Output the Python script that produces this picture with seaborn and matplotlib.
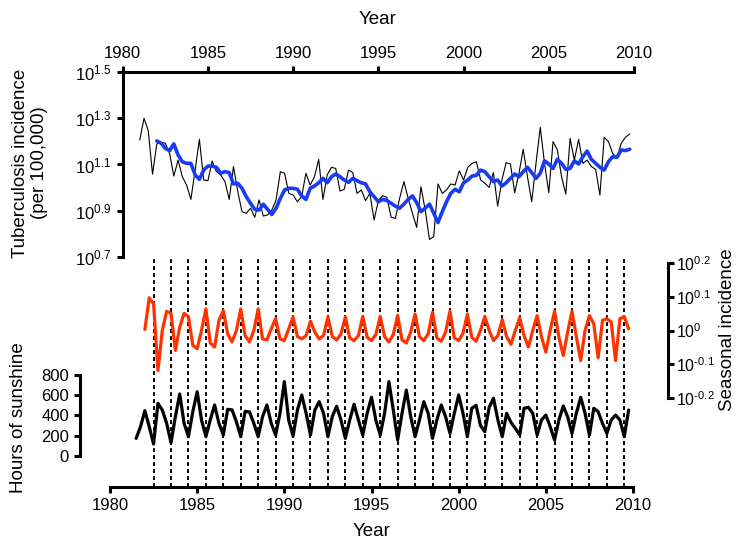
import numpy as np
import matplotlib.pyplot as plt
import seaborn as sns

# quarterly tuberculosis incidence, log10(per 100,000), from 1981 Q1
tb_log = [1.206, 1.300, 1.246, 1.058, 1.189, 1.196, 1.192, 1.148, 1.050, 1.119,
          1.047, 1.011, 0.949, 1.076, 1.209, 1.033, 1.030, 1.115, 1.069, 1.055,
          1.026, 0.949, 1.091, 0.983, 0.896, 0.889, 0.911, 0.872, 0.947, 0.877,
          0.882, 0.903, 0.947, 1.069, 1.062, 0.975, 0.968, 0.939, 0.961, 1.062,
          1.011, 1.047, 1.122, 0.949, 1.055, 1.088, 1.083, 0.985, 0.993, 1.076,
          1.065, 0.975, 0.990, 0.944, 0.975, 0.860, 0.944, 0.965, 0.958, 0.872,
          0.867, 0.954, 1.026, 0.954, 0.889, 0.828, 1.004, 0.903, 0.776, 0.788,
          1.016, 0.975, 0.990, 1.016, 1.011, 1.073, 1.033, 1.088, 1.105, 1.112,
          1.033, 1.019, 1.001, 1.065, 0.920, 1.033, 1.108, 1.102, 0.978, 1.062,
          1.166, 1.047, 0.939, 1.105, 1.261, 1.105, 0.978, 1.199, 1.163, 1.047,
          0.972, 1.213, 1.119, 1.209, 1.105, 1.119, 1.091, 1.079, 0.968, 1.218,
          1.199, 1.148, 1.127, 1.192, 1.218, 1.232]

# smoothed trend, log10(per 100,000), from 1982 Q1
trend_log = [1.202, 1.192, 1.170, 1.160, 1.189, 1.141,
             1.112, 1.105, 1.105, 1.055, 1.036, 1.076, 1.093, 1.093, 1.088, 1.062,
             1.069, 1.065, 1.016, 1.019, 0.997, 0.961, 0.932, 0.906, 0.903, 0.928,
             0.906, 0.884, 0.911, 0.954, 0.990, 0.997, 0.997, 0.993, 0.964, 0.949,
             0.997, 1.007, 1.021, 1.040, 1.021, 1.047, 1.059, 1.047, 1.033, 1.023,
             1.040, 1.030, 1.021, 1.016, 0.982, 0.961, 0.939, 0.949, 0.944, 0.932,
             0.920, 0.911, 0.929, 0.949, 0.964, 0.935, 0.896, 0.911, 0.929, 0.889,
             0.849, 0.896, 0.939, 0.975, 0.993, 0.982, 1.021, 1.033, 1.050, 1.053,
             1.076, 1.069, 1.047, 1.026, 1.033, 1.007, 1.021, 1.040, 1.059, 1.047,
             1.069, 1.088, 1.065, 1.040, 1.062, 1.116, 1.102, 1.083, 1.122, 1.105,
             1.079, 1.083, 1.116, 1.102, 1.134, 1.158, 1.122, 1.105, 1.088, 1.076,
             1.112, 1.134, 1.131, 1.163, 1.160, 1.166]

# seasonal incidence, log10, from 1982 Q1
season_log = [0.003, 0.097, 0.079, -0.119, 0.000, 0.057, 0.051, -0.059, 0.010, 0.051,
              0.041, -0.044, -0.054, 0.000, 0.064, -0.037, -0.049, 0.030, 0.059, -0.010,
              -0.034, 0.000, 0.064, -0.015, -0.034, 0.000, 0.064, -0.025, -0.028, 0.005,
              0.035, -0.025, -0.030, 0.005, 0.040, -0.018, -0.025, -0.015, 0.028, -0.005,
              -0.025, -0.015, 0.040, -0.018, -0.028, -0.010, 0.040, -0.022, -0.030, -0.015,
              0.042, -0.020, -0.030, -0.012, 0.042, -0.018, -0.034, -0.012, 0.045, -0.028,
              -0.037, -0.005, 0.049, -0.018, -0.030, -0.010, 0.054, -0.022, -0.032, -0.005,
              0.057, -0.022, -0.030, -0.008, 0.049, -0.020, -0.032, 0.000, 0.042, 0.000,
              -0.030, -0.015, 0.032, -0.018, -0.041, 0.000, 0.038, -0.015, -0.049, 0.000,
              0.044, -0.018, -0.064, 0.000, 0.057, -0.020, -0.074, -0.005, 0.057, -0.018,
              -0.089, 0.000, 0.044, 0.020, -0.081, 0.030, 0.035, 0.025, -0.089, 0.035,
              0.041, 0.005]

# hours of sunshine per quarter, from 1981 Q3
sunshine = [172, 288, 447, 288, 116, 519, 453, 321, 129, 387,
            612, 321, 189, 437, 635, 354, 189, 354, 503, 321,
            205, 460, 455, 337, 189, 440, 435, 321, 189, 387,
            503, 321, 205, 420, 735, 354, 195, 453, 602, 420,
            205, 453, 536, 420, 189, 387, 490, 354, 172, 354,
            510, 354, 205, 420, 580, 354, 205, 420, 734, 453,
            156, 420, 651, 387, 189, 354, 536, 420, 172, 354,
            503, 387, 222, 420, 602, 420, 189, 470, 500, 300,
            238, 480, 569, 354, 189, 420, 330, 271, 205, 470,
            480, 420, 205, 354, 403, 288, 156, 354, 493, 387,
            222, 420, 579, 420, 205, 470, 437, 321, 222, 354,
            403, 354, 189, 453]

tb_year = 1981.0 + 0.25 * np.arange(len(tb_log))
trend_year = 1982.0 + 0.25 * np.arange(len(trend_log))
season_year = 1982.0 + 0.25 * np.arange(len(season_log))
sun_year = 1981.5 + 0.25 * np.arange(len(sunshine))
mid_years = np.arange(1982.5, 2010, 1.0)

year_ticks = [1980, 1985, 1990, 1995, 2000, 2005, 2010]
tb_exps = ["0.7", "0.9", "1.1", "1.3", "1.5"]
season_exps = ["-0.2", "-0.1", "0", "0.1", "0.2"]
sun_ticks = [0, 200, 400, 600, 800]

sns.set_style("ticks")
plt.rcParams["font.family"] = ["Liberation Sans", "DejaVu Sans"]
plt.rcParams["mathtext.fontset"] = "custom"
plt.rcParams["mathtext.rm"] = "Liberation Sans"
plt.rcParams["mathtext.it"] = "Liberation Sans:italic"
plt.rcParams["mathtext.default"] = "rm"
for key in ["text.color", "axes.labelcolor", "xtick.color", "ytick.color", "axes.edgecolor"]:
    plt.rcParams[key] = "black"


def pow10_label(e):
    # plain hyphen for the minus, as in the original figure
    return r"$10^{\text{%s}}$" % e


W, H = 737, 546
fig = plt.figure(figsize=(W / 100, H / 100), dpi=100)


def box(x0, y0, x1, y1):
    return [x0 / W, 1 - y1 / H, (x1 - x0) / W, (y1 - y0) / H]


ax_bot = fig.add_axes(box(110, 258, 633, 487))
ax_mid = fig.add_axes(box(110, 263, 633, 398))
ax_top = fig.add_axes(box(122.7, 72, 634, 257))

LW = 2.2
for ax in (ax_bot, ax_mid, ax_top):
    ax.patch.set_visible(False)
    for s in ax.spines.values():
        s.set_linewidth(LW)
        s.set_color("black")
        s.set_visible(False)
    ax.tick_params(width=LW, length=4.5, labelsize=12, color="black",
                   labelcolor="black", direction="out")

# sunshine + mid-year markers
for yr in mid_years:
    ax_bot.axvline(yr, color="black", lw=1.4, ls=(0, (2, 1.6)), zorder=1)
sns.lineplot(x=sun_year, y=sunshine, ax=ax_bot, color="black", lw=2.3, zorder=3)
ax_bot.set_xlim(1980, 2010)
ax_bot.set_ylim(-310, 1960)
ax_bot.spines["left"].set_visible(True)
ax_bot.spines["bottom"].set_visible(True)
ax_bot.spines["left"].set_position(("outward", 30 * 0.72))
ax_bot.spines["left"].set_bounds(0, 800)
ax_bot.set_yticks(sun_ticks)
ax_bot.set_xticks(year_ticks)
ax_bot.set_xlabel("")
ax_bot.set_ylabel("")

# seasonal incidence
sns.lineplot(x=season_year, y=10 ** np.array(season_log), ax=ax_mid, color="#ff3300", lw=2.3)
ax_mid.set_yscale("log")
ax_mid.set_xlim(1980, 2010)
ax_mid.set_ylim(10 ** -0.2, 10 ** 0.2)
ax_mid.spines["right"].set_visible(True)
ax_mid.spines["right"].set_position(("outward", 35 * 0.72))
ax_mid.yaxis.set_ticks_position("right")
ax_mid.set_yticks([10 ** float(e) for e in season_exps],
                  labels=[pow10_label(e) for e in season_exps])
ax_mid.minorticks_off()
ax_mid.tick_params(axis="y", pad=1.5, labelsize=11.5)
ax_mid.set_xticks([])
ax_mid.set_xlabel("")
ax_mid.set_ylabel("")

# tuberculosis incidence
sns.lineplot(x=tb_year, y=10 ** np.array(tb_log), ax=ax_top, color="black", lw=0.8)
sns.lineplot(x=trend_year, y=10 ** np.array(trend_log), ax=ax_top, color="#1a3cf0", lw=2.6)
ax_top.set_yscale("log")
ax_top.set_xlim(1980, 2010)
ax_top.set_ylim(10 ** 0.7, 10 ** 1.5)
ax_top.spines["top"].set_visible(True)
ax_top.spines["left"].set_visible(True)
ax_top.xaxis.set_ticks_position("top")
ax_top.set_xticks(year_ticks)
ax_top.set_yticks([10 ** float(e) for e in tb_exps], labels=[pow10_label(e) for e in tb_exps])
ax_top.minorticks_off()
ax_top.set_xlabel("")
ax_top.set_ylabel("")

fig.text(378 / W, 1 - 20 / H, "Year", ha="center", va="center", fontsize=13.5)
fig.text(372 / W, 1 - 531 / H, "Year", ha="center", va="center", fontsize=13.5)
fig.text(30 / W, 1 - 163 / H, "Tuberculosis incidence\n(per 100,000)", rotation=90,
         ha="center", va="center", multialignment="center", fontsize=13.5, linespacing=1.1)
fig.text(19 / W, 1 - 418 / H, "Hours of sunshine", rotation=90,
         ha="center", va="center", fontsize=13.5)
fig.text(727 / W, 1 - 330 / H, "Seasonal incidence", rotation=90,
         ha="center", va="center", fontsize=13.5)

fig.savefig("out.png", dpi=100)
